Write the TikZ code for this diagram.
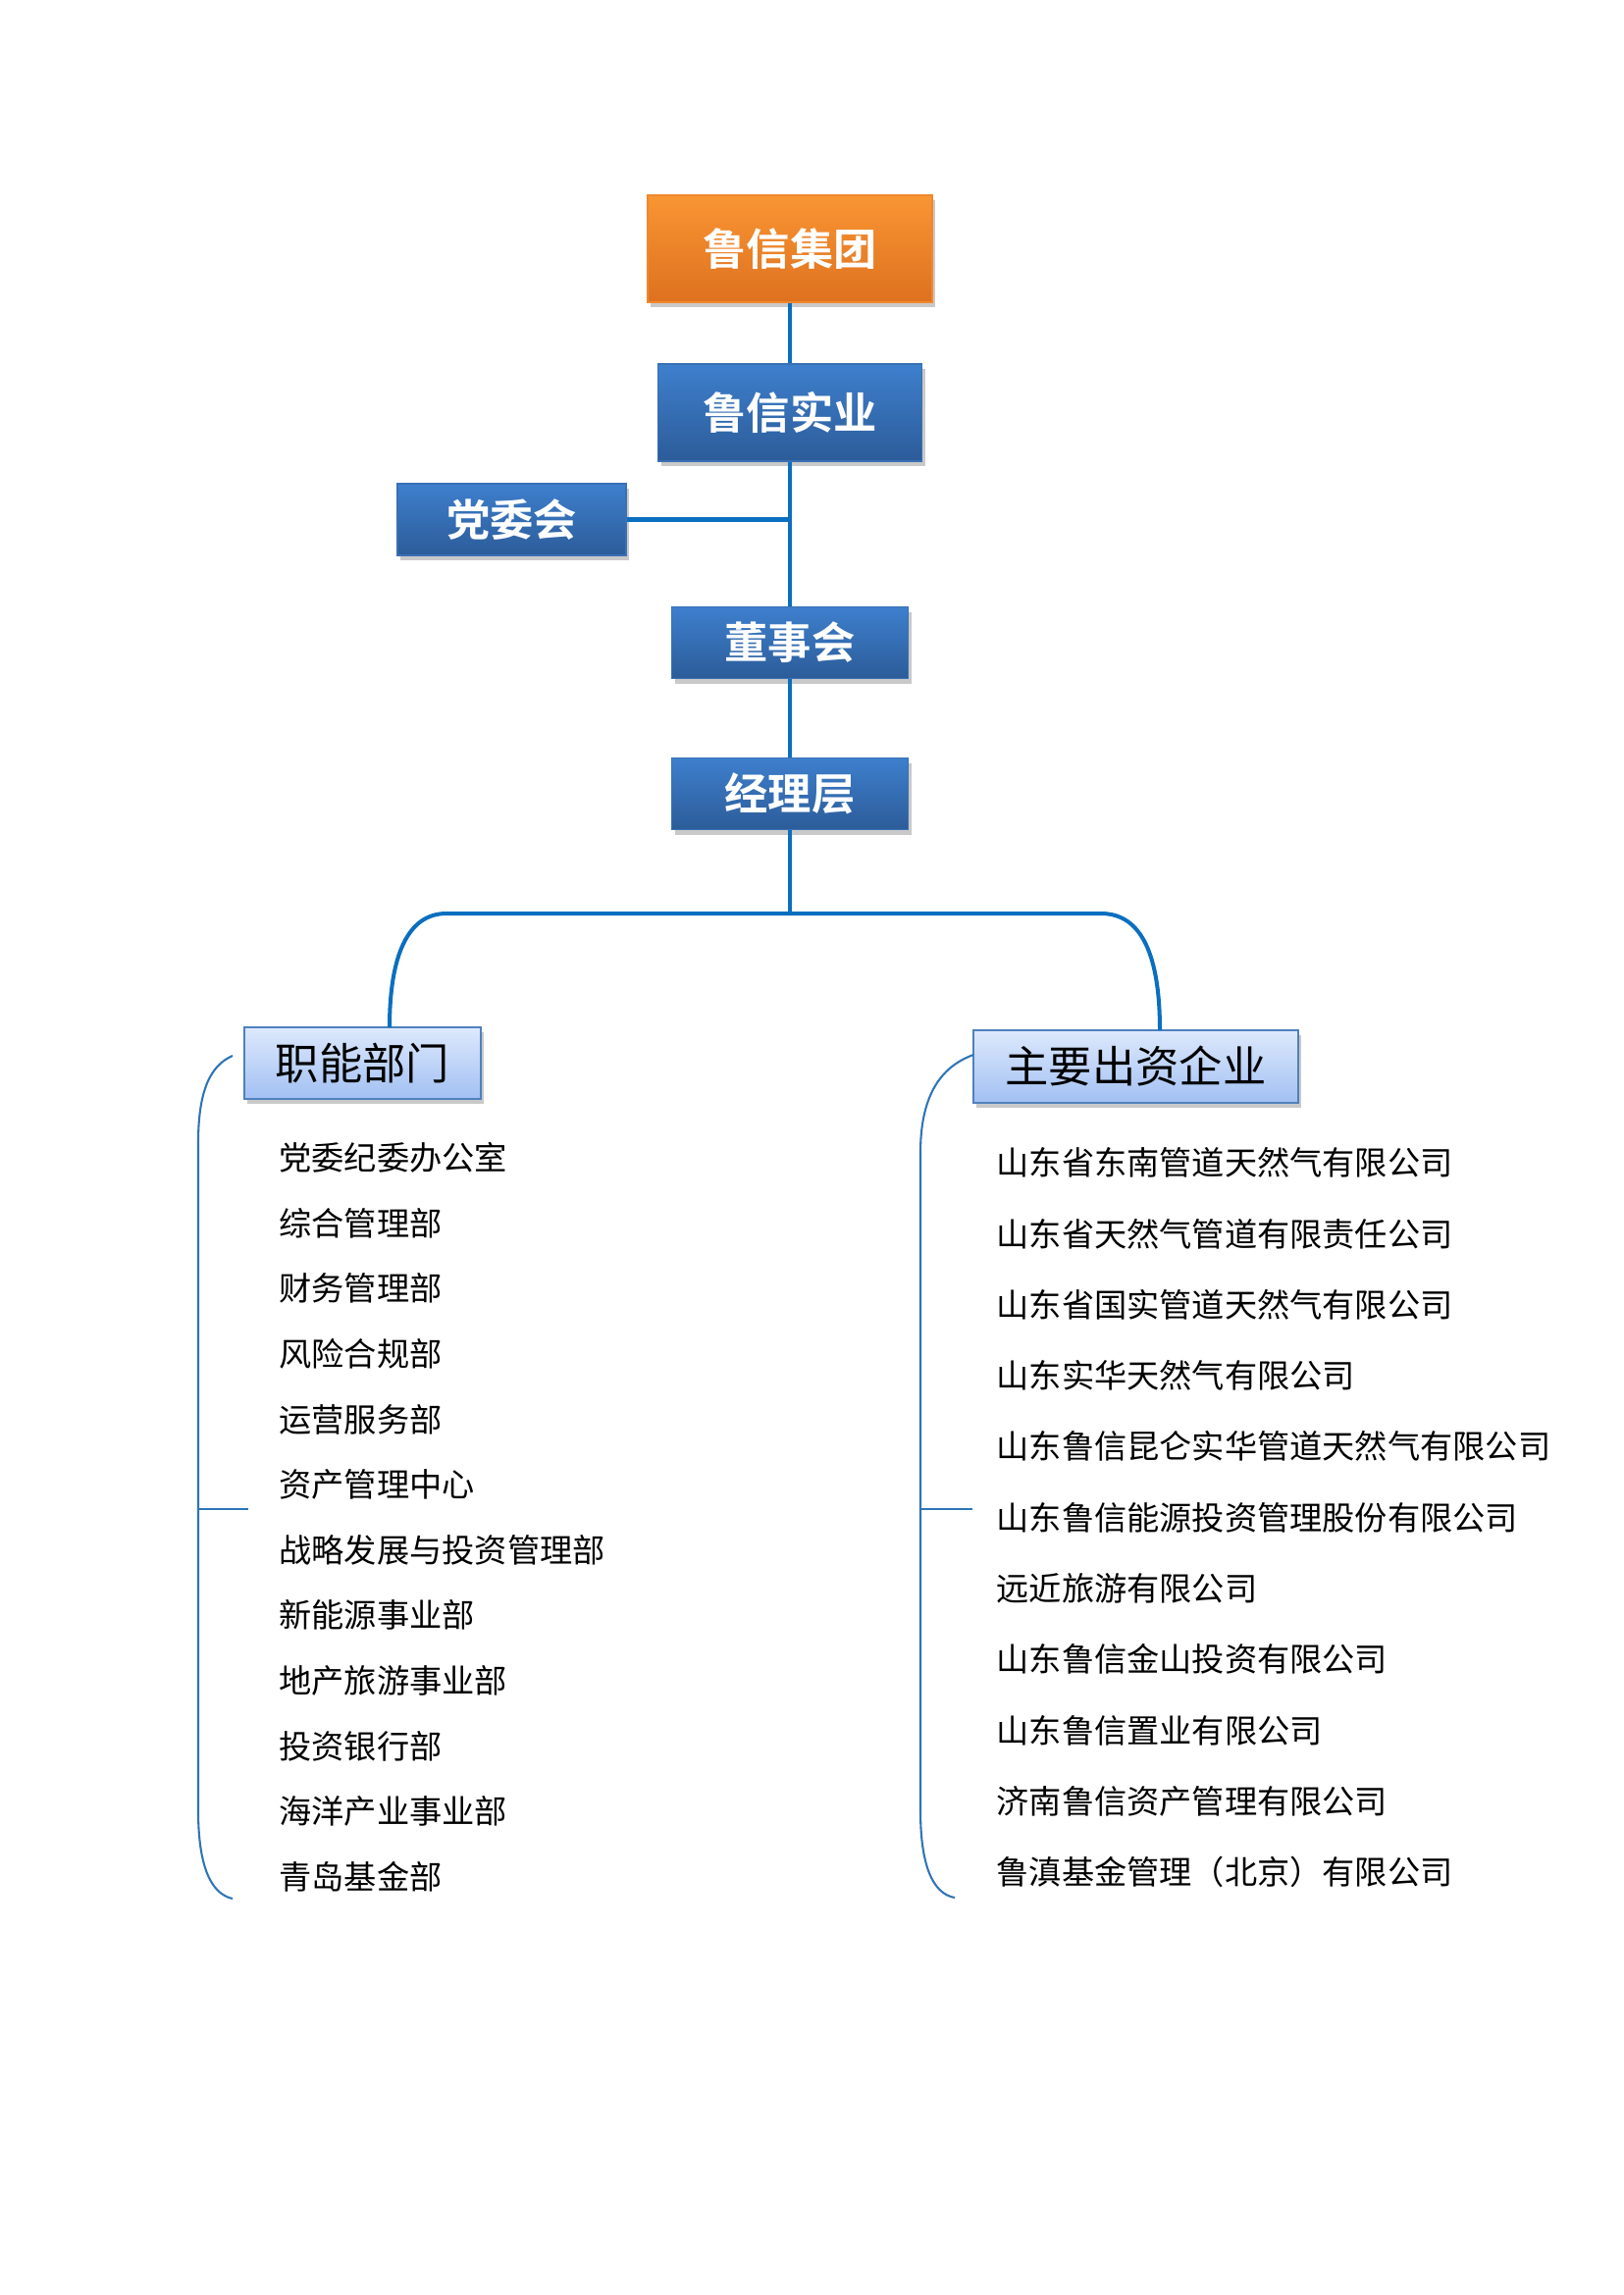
\documentclass[tikz,border=0pt]{standalone}
\usepackage{fontspec}
\newfontfamily\cjk{Noto Sans CJK SC}
\newfontfamily\cjkbold{Noto Sans CJK SC Bold}
\usetikzlibrary{shadows}
\newdimen\px
\px=0.12697mm
\definecolor{lineblue}{HTML}{0B6FC0}
\definecolor{brblue}{HTML}{2E75B6}
\definecolor{orgtop}{HTML}{F99533}
\definecolor{orgbot}{HTML}{DE711F}
\definecolor{orgedge}{HTML}{F0882E}
\definecolor{dbtop}{HTML}{3E7FCD}
\definecolor{dbbot}{HTML}{2C5C99}
\definecolor{dbedge}{HTML}{3A70B4}
\definecolor{lbtop}{HTML}{DDE9FC}
\definecolor{lbbot}{HTML}{A2C0F3}
\definecolor{lbedge}{HTML}{4F81BD}
\tikzset{
  boxshadow/.style={drop shadow={shadow xshift=3\px, shadow yshift=-5\px, opacity=0.35, fill=black!60}},
  orgbox/.style={draw=orgedge, line width=0.6pt, top color=orgtop, bottom color=orgbot, boxshadow,
    text=white, font=\cjkbold\fontsize{16}{18}\selectfont, inner sep=0pt},
  dbbox/.style={draw=dbedge, line width=0.6pt, top color=dbtop, bottom color=dbbot, boxshadow,
    text=white, font=\cjkbold\fontsize{16}{18}\selectfont, inner sep=0pt},
  lbbox/.style={draw=lbedge, line width=1pt, top color=lbtop, bottom color=lbbot, boxshadow,
    text=black, font=\cjk\fontsize{16}{18}\selectfont, inner sep=0pt},
  mainline/.style={draw=lineblue, line width=1.45pt},
  brline/.style={draw=brblue, line width=0.75pt},
  itemtext/.style={anchor=west, inner sep=0pt, font=\cjk\fontsize{12}{14}\selectfont, text=black},
}
\begin{document}
\begin{tikzpicture}[x=\px, y=-\px]
\useasboundingbox[fill=white] (0,0) rectangle (1654,2339);

% boxes
\node[orgbox, minimum width=290\px, minimum height=109\px] (jt) at (805,253.5) {鲁信集团};
\node[dbbox, minimum width=269\px, minimum height=99\px] (sy) at (805,420.5) {鲁信实业};
\node[dbbox, minimum width=233\px, minimum height=73\px] (dwh) at (521.5,529.5) {党委会};
\node[dbbox, minimum width=241\px, minimum height=73\px] (dsh) at (805,655) {董事会};
\node[dbbox, minimum width=241\px, minimum height=73\px] (jlc) at (805,809) {经理层};
\node[lbbox, minimum width=241\px, minimum height=73\px] (znbm) at (369.5,1083.5) {职能部门};
\node[lbbox, minimum width=331\px, minimum height=74\px] (zyqy) at (1157.5,1087) {主要出资企业};

% connectors
\coordinate (dj) at (805,529.5);
\coordinate (br) at (805,931);
\coordinate (lt) at (397,1047);
\coordinate (rt) at (1182,1050);
\begin{scope}[on background layer/.try]
\end{scope}
\draw[mainline] (jt.south) -- (sy.north);
\draw[mainline] (sy.south) -- (dsh.north);
\draw[mainline] (dwh.east) -- (dj);
\draw[mainline] (dsh.south) -- (jlc.north);
\draw[mainline] (jlc.south) -- (br);
\draw[mainline] (br) -- (455,931) .. controls (415,931) and (397,975) .. (lt);
\draw[mainline] (br) -- (1122,931) .. controls (1164,931) and (1182,975) .. (rt);

% left list
\foreach \t [count=\i from 0] in {党委纪委办公室,综合管理部,财务管理部,风险合规部,运营服务部,资产管理中心,战略发展与投资管理部,新能源事业部,地产旅游事业部,投资银行部,海洋产业事业部,青岛基金部}{
  \node[itemtext] (l\i) at (284,1180+66.6*\i) {\t};
}
% right list
\foreach \t [count=\i from 0] in {山东省东南管道天然气有限公司,山东省天然气管道有限责任公司,山东省国实管道天然气有限公司,山东实华天然气有限公司,山东鲁信昆仑实华管道天然气有限公司,山东鲁信能源投资管理股份有限公司,远近旅游有限公司,山东鲁信金山投资有限公司,山东鲁信置业有限公司,济南鲁信资产管理有限公司,鲁滇基金管理（北京）有限公司}{
  \node[itemtext] (r\i) at (1015,1185+72.3*\i) {\t};
}

% brackets
\coordinate (lbt) at (237,1076);
\coordinate (lbb) at (237,1935);
\coordinate (lbm) at (202,1538);
\coordinate (lbme) at (253,1538);
\draw[brline] (lbt) .. controls (214,1086) and (202,1112) .. (202,1165) -- (202,1845) .. controls (202,1900) and (214,1930) .. (lbb);
\draw[brline] (lbm) -- (lbme);

\coordinate (rbt) at (992,1075);
\coordinate (rbb) at (973,1934);
\coordinate (rbm) at (938,1538);
\coordinate (rbme) at (991,1538);
\draw[brline] (rbt) .. controls (962,1086) and (938,1112) .. (938,1175) -- (938,1845) .. controls (938,1900) and (950,1930) .. (rbb);
\draw[brline] (rbm) -- (rbme);
\end{tikzpicture}
\end{document}
